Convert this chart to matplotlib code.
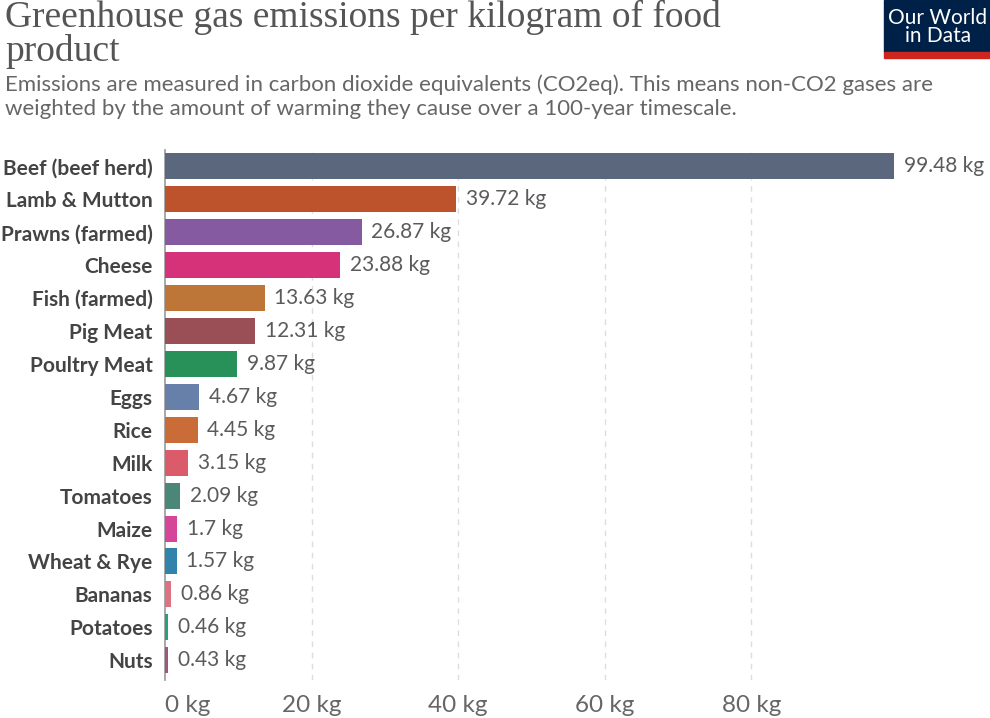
import matplotlib
matplotlib.use("Agg")
import matplotlib.pyplot as plt
from matplotlib.patches import Rectangle

categories = ["Beef (beef herd)", "Lamb & Mutton", "Prawns (farmed)", "Cheese",
              "Fish (farmed)", "Pig Meat", "Poultry Meat", "Eggs", "Rice", "Milk",
              "Tomatoes", "Maize", "Wheat & Rye", "Bananas", "Potatoes", "Nuts"]
values = [99.48, 39.72, 26.87, 23.88, 13.63, 12.31, 9.87, 4.67, 4.45, 3.15,
          2.09, 1.7, 1.57, 0.86, 0.46, 0.43]
colors = ["#5a677d", "#bc532d", "#855aa1", "#d6327a", "#be7638", "#9a4e55",
          "#28915a", "#6680aa", "#c96c38", "#dc5b6a", "#4a8778", "#d5459a",
          "#3183ab", "#dc7282", "#27a07b", "#a0577f"]
xticks = [0, 20, 40, 60, 80]
xtick_labels = ["0 kg", "20 kg", "40 kg", "60 kg", "80 kg"]

title = "Greenhouse gas emissions per kilogram of food\nproduct"
subtitle = ("Emissions are measured in carbon dioxide equivalents (CO2eq). This means non-CO2 gases are\n"
            "weighted by the amount of warming they cause over a 100-year timescale.")

W, H = 990, 718
fig = plt.figure(figsize=(W / 100, H / 100), dpi=100)

ax_left, ax_right = 165, 898
ax_top, ax_bottom = 150, 680
ax = fig.add_axes([ax_left / W, 1 - ax_bottom / H, (ax_right - ax_left) / W, (ax_bottom - ax_top) / H])

y = list(range(len(categories)))
ax.barh(y, values, height=0.79, color=colors, zorder=3)
ax.set_xlim(0, 100)
ax.set_ylim(15.6, -0.5)

for yi, v in zip(y, values):
    ax.text(v + 1.3, yi, f"{v:g} kg", va="center", ha="left",
            fontsize=15, color="#5b5b5b", family="Lato", zorder=4)

ax.set_yticks(y)
ax.set_yticklabels(categories, fontsize=15, fontweight="bold", color="#444444", family="Lato")
ax.tick_params(axis="y", length=0, pad=9)
ax.set_xticks(xticks)
ax.set_xticklabels(xtick_labels, fontsize=17.5, color="#666666", family="Lato")
ax.tick_params(axis="x", length=0, pad=11)
ax.get_xticklabels()[0].set_ha("left")

for t in xticks[1:]:
    ax.axvline(t, color="#dddddd", lw=1, ls=(0, (4, 4)), zorder=1)

for s in ["top", "right", "bottom"]:
    ax.spines[s].set_visible(False)
ax.spines["left"].set_color("#999999")
ax.spines["left"].set_linewidth(1.2)

fig.text(5 / W, 1 - 0 / H, title, ha="left", va="top", fontsize=27,
         family="Liberation Serif", color="#555555", linespacing=0.95)
fig.text(5 / W, 1 - 74 / H, subtitle, ha="left", va="top", fontsize=16,
         family="Lato", color="#666666", linespacing=1.3)

# logo
fig.patches.append(Rectangle((884 / W, 1 - 52 / H), 106 / W, 52 / H,
                             transform=fig.transFigure, color="#002147", zorder=5))
fig.patches.append(Rectangle((884 / W, 1 - 58 / H), 106 / W, 6 / H,
                             transform=fig.transFigure, color="#ce261e", zorder=5))
fig.text(938 / W, 1 - 27 / H, "Our World\nin Data", ha="center", va="center",
         fontsize=15, family="Lato", color="white", linespacing=0.9, zorder=6)

fig.savefig("out.png", dpi=100, facecolor="white")
